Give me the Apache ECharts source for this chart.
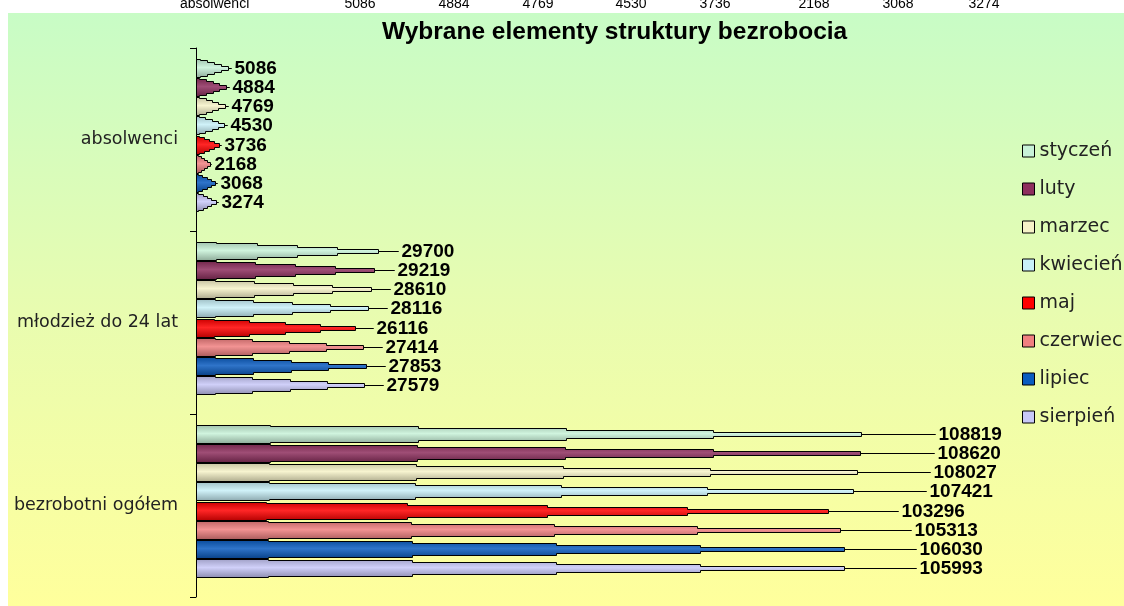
<!DOCTYPE html>
<html>
<head>
<meta charset="utf-8">
<script src="https://cdn.jsdelivr.net/npm/echarts@6/dist/echarts.min.js"></script>
<style>
html,body{margin:0;padding:0;background:#fff;}
#chart{width:1124px;height:606px;}
</style>
</head>
<body>
<div id="chart"></div>
<script>
// kategorie (od góry)
var categories = ['absolwenci', 'młodzież do 24 lat', 'bezrobotni ogółem'];
var months = ['styczeń', 'luty', 'marzec', 'kwiecień', 'maj', 'czerwiec', 'lipiec', 'sierpień'];
// wartości: absolwenci, młodzież do 24 lat, bezrobotni ogółem
var styczen  = [5086, 29700, 108819];
var luty     = [4884, 29219, 108620];
var marzec   = [4769, 28610, 108027];
var kwiecien = [4530, 28116, 107421];
var maj      = [3736, 26116, 103296];
var czerwiec = [2168, 27414, 105313];
var lipiec   = [3068, 27853, 106030];
var sierpien = [3274, 27579, 105993];
var xMax = 120000;

var seriesValues = [styczen, luty, marzec, kwiecien, maj, czerwiec, lipiec, sierpien];
var colors = ['#c8f2d8', '#8e2f5e', '#f6f2c8', '#c8f0f8', '#ff0000', '#f08080', '#0a5cc0', '#c8c8f8'];

// stożek rysowany schodkami: [ułamek długości, pół-grubość]
var coneSteps = [[0, 9], [0.1, 8], [0.3, 6], [0.5, 4], [0.7, 2], [0.9, 0]];
var nSeries = months.length;
var groupShare = 0.84;

function mix(hex, t) {
    var r = parseInt(hex.substr(1, 2), 16), g = parseInt(hex.substr(3, 2), 16), b = parseInt(hex.substr(5, 2), 16);
    var f = function (c) {
        return Math.round(t > 0 ? c + (255 - c) * t : c * (1 + t));
    };
    return 'rgb(' + f(r) + ',' + f(g) + ',' + f(b) + ')';
}

function renderCone(params, api) {
    var val = api.value(0);
    var cat = api.value(1);
    var start = api.coord([0, cat]);
    var end = api.coord([val, cat]);
    var band = api.size([0, 1])[1];
    var slot = band * groupShare / nSeries;
    var c = Math.round(start[1] - band * groupShare / 2 + slot * (params.seriesIndex + 0.5) - 4.5) + 0.5;
    var x0 = Math.round(start[0]) + 0.5;
    var x1 = Math.round(end[0]) + 0.5;
    var len = x1 - x0;
    var top = [], bottom = [];
    for (var s = 0; s < coneSteps.length; s++) {
        var xa = Math.round(x0 + coneSteps[s][0] * len - 0.5) + 0.5;
        var xb = s + 1 < coneSteps.length ? Math.round(x0 + coneSteps[s + 1][0] * len - 0.5) + 0.5 : x1;
        var h = coneSteps[s][1];
        top.push([xa, c - h], [xb, c - h]);
        bottom.unshift([xb, c + h], [xa, c + h]);
    }
    var col = colors[params.seriesIndex];
    return {
        type: 'group',
        children: [{
            type: 'polygon',
            shape: { points: top.concat(bottom) },
            style: {
                fill: new echarts.graphic.LinearGradient(0, 0, 0, 1, [
                    { offset: 0, color: mix(col, -0.2) },
                    { offset: 0.45, color: mix(col, 0.15) },
                    { offset: 1, color: mix(col, -0.3) }
                ]),
                stroke: '#000',
                lineWidth: 1
            }
        }, {
            type: 'text',
            style: {
                x: x1 + 3,
                y: c,
                text: String(val),
                fill: '#000',
                font: 'bold 19px "Liberation Sans"',
                verticalAlign: 'middle'
            }
        }]
    };
}

var series = [];
var legendData = [];
for (var i = 0; i < nSeries; i++) {
    legendData.push({ name: months[i], itemStyle: { color: colors[i], borderColor: '#000', borderWidth: 1 } });
    var points = [];
    for (var k = 0; k < categories.length; k++) {
        points.push([seriesValues[i][k], k]);
    }
    series.push({
        name: months[i],
        type: 'custom',
        renderItem: renderCone,
        encode: { x: 0, y: 1 },
        itemStyle: { color: colors[i] },
        data: points
    });
}

// obcięty wiersz tabeli nad wykresem
var stripX = [360, 454, 538, 631, 715, 814, 898, 984];
var graphics = [{
    type: 'rect',
    z: -10,
    shape: { x: 8, y: 13, width: 1116, height: 593 },
    style: {
        fill: {
            type: 'linear', x: 0, y: 0, x2: 0, y2: 1,
            colorStops: [
                { offset: 0, color: '#c8fcc6' },
                { offset: 0.5, color: '#e8fcb0' },
                { offset: 1, color: '#ffff9c' }
            ]
        }
    }
}, {
    type: 'text',
    style: { x: 180, y: 11, text: categories[0], font: '14px "Liberation Sans"', fill: '#000', verticalAlign: 'bottom' }
}];
for (var j = 0; j < stripX.length; j++) {
    graphics.push({
        type: 'text',
        style: { x: stripX[j], y: 11, text: String(seriesValues[j][0]), font: '14px "Liberation Sans"', fill: '#000', align: 'center', verticalAlign: 'bottom' }
    });
}

var chart = echarts.init(document.getElementById('chart'));
chart.setOption({
    animation: false,
    title: {
        text: 'Wybrane elementy struktury bezrobocia',
        left: 382,
        top: 20,
        padding: 0,
        textStyle: { fontSize: 24.5, fontWeight: 'bold', color: '#000', fontFamily: 'Liberation Sans' }
    },
    legend: {
        orient: 'vertical',
        left: 1022,
        top: 141,
        padding: 0,
        itemWidth: 12,
        itemHeight: 12,
        itemGap: 18,
        icon: 'rect',
        data: legendData,
        textStyle: { fontSize: 19, lineHeight: 20, color: '#222', fontFamily: 'DejaVu Sans' }
    },
    grid: { left: 196, right: 113, top: 48, bottom: 9 },
    xAxis: { type: 'value', min: 0, max: xMax, show: false },
    yAxis: {
        type: 'category',
        inverse: true,
        data: categories,
        offset: 6,
        axisLine: { lineStyle: { color: '#000', width: 1 } },
        axisTick: { show: true, length: 6, lineStyle: { color: '#000' } },
        axisLabel: { margin: 12, fontSize: 17.5, color: '#222', fontFamily: 'DejaVu Sans' },
        splitLine: { show: false }
    },
    graphic: graphics,
    series: series
});
</script>
</body>
</html>
